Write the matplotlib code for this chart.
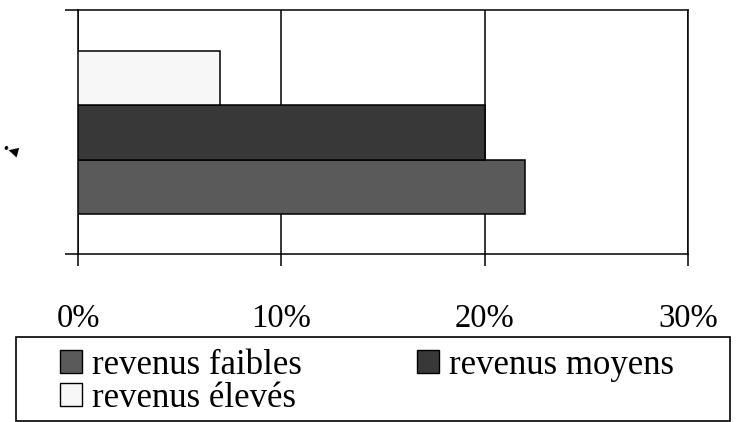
import matplotlib.pyplot as plt
from matplotlib.patches import Rectangle, Patch

plt.rcParams['font.family'] = ['Liberation Serif', 'DejaVu Serif']

# data
series = ["revenus faibles", "revenus moyens", "revenus élevés"]
values = [22, 20, 7]
colors = ["#5a5a5a", "#383838", "#f7f7f7"]
xticks = [0, 10, 20, 30]
xticklabels = ["0%", "10%", "20%", "30%"]

fig = plt.figure(figsize=(7.37, 4.22), dpi=100)
ax = fig.add_axes([78/737, 1 - 254/422, (688 - 78)/737, (254 - 10)/422])

h = 0.222
center = 0.498
for i, (name, v, c) in enumerate(zip(series, values, colors)):
    ax.barh(center + (i - 1) * h, v, height=h, color=c, edgecolor='black',
            linewidth=1.1, zorder=3)

ax.set_xlim(0, 30)
ax.set_ylim(0, 1)
ax.set_xticks(xticks)
ax.set_xticklabels(xticklabels, fontsize=23.5)
ax.set_yticks([0, 1])
ax.set_yticklabels([])
ax.tick_params(axis='x', direction='out', length=8.6, width=1.1, pad=27)
ax.tick_params(axis='y', direction='out', length=9.4, width=1.1)
ax.xaxis.grid(True, color='black', linewidth=1.1, zorder=1)
for s in ax.spines.values():
    s.set_linewidth(1.1)

# cropped label remnant on the left
fig.text(0.0, 1 - 150/422, "•◀", fontsize=9, va='center', ha='left',
         family=['DejaVu Sans'], rotation=-15)

# legend box
fig.patches.append(Rectangle((16/737, 1 - 421/422), (730 - 16)/737, (421 - 337)/422,
                             transform=fig.transFigure, fill=False,
                             edgecolor='black', linewidth=1.2))
handles = [Patch(facecolor=colors[0], edgecolor='black', label=series[0]),
           Patch(facecolor=colors[2], edgecolor='black', label=series[2]),
           Patch(facecolor=colors[1], edgecolor='black', label=series[1])]
fig.legend(handles=handles, ncol=2, loc='upper left',
           bbox_to_anchor=(60/737, 1 - 349/422), frameon=False, fontsize=25,
           handlelength=0.63, handleheight=0.63, handletextpad=0.3,
           columnspacing=3.3, labelspacing=0.0, borderpad=0, borderaxespad=0)

plt.savefig("out.png", dpi=100)
